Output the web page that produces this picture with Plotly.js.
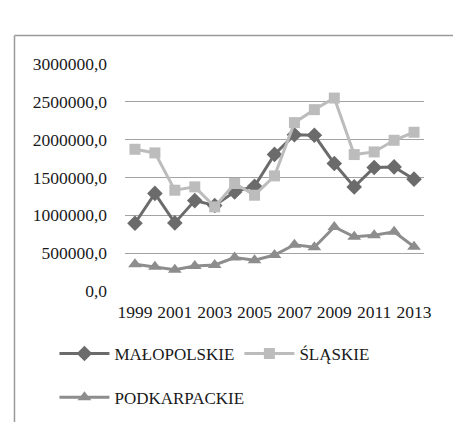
<!DOCTYPE html>
<html>
<head>
<meta charset="utf-8">
<script src="https://cdn.plot.ly/plotly-3.0.1.min.js"></script>
<style>
html,body{margin:0;padding:0;background:#fff;}
#chart{width:453px;height:422px;}
</style>
</head>
<body>
<div id="chart"></div>
<script>
var years = ['1999','2000','2001','2002','2003','2004','2005','2006','2007','2008','2009','2010','2011','2012','2013'];
var tickYears = ['1999','2001','2003','2005','2007','2009','2011','2013'];
var malopolskie = [895000,1290000,900000,1195000,1130000,1310000,1385000,1805000,2065000,2058000,1685000,1376000,1632000,1640000,1478000];
var slaskie = [1873000,1825000,1332000,1376000,1112000,1421000,1266000,1521000,2225000,2397000,2550000,1803000,1838000,1992000,2098000];
var podkarpackie = [355000,322000,280000,330000,345000,442000,408000,475000,612000,578000,846000,716000,738000,782000,585000];
var yTicks = [0,500000,1000000,1500000,2000000,2500000,3000000];

var font = "Liberation Serif";
var txt = '#1a1a1a';
var traces = [
  {x: years, y: malopolskie, name: 'MAŁOPOLSKIE', type: 'scatter', mode: 'lines+markers', legend: 'legend',
   line: {color: '#6b6b6b', width: 3}, marker: {symbol: 'diamond', size: 12, color: '#6b6b6b'}},
  {x: years, y: slaskie, name: 'ŚLĄSKIE', type: 'scatter', mode: 'lines+markers', legend: 'legend',
   line: {color: '#bcbcbc', width: 3}, marker: {symbol: 'square', size: 11, color: '#bcbcbc'}},
  {x: years, y: podkarpackie, name: 'PODKARPACKIE', type: 'scatter', mode: 'lines+markers', legend: 'legend2',
   line: {color: '#8d8d8d', width: 3}, marker: {symbol: 'triangle-up', size: 12, color: '#8d8d8d'}}
];

var legendBase = {orientation: 'h', xanchor: 'left', yanchor: 'middle',
    font: {family: font, size: 17, color: txt}, itemwidth: 50,
    bgcolor: 'rgba(0,0,0,0)', traceorder: 'normal', itemsizing: 'trace'};

var layout = {
  width: 453, height: 422,
  margin: {l: 125, r: 29, t: 63.5, b: 131, pad: 0, autoexpand: false},
  paper_bgcolor: '#fff', plot_bgcolor: '#fff',
  separators: ', ',
  font: {family: font, size: 17, color: txt},
  showlegend: true,
  legend: Object.assign({}, legendBase, {x: -0.236, y: -0.277}),
  legend2: Object.assign({}, legendBase, {x: -0.236, y: -0.47}),
  xaxis: {type: 'category', range: [-0.5, 14.5], tickvals: tickYears, ticktext: tickYears,
    showgrid: false, showline: false, zeroline: false, ticks: '', ticklabelstandoff: 8,
    tickfont: {family: font, size: 17.5, color: txt}, fixedrange: true},
  yaxis: {range: [0, 3000000], tickvals: yTicks, tickformat: '.1f',
    showgrid: true, gridcolor: '#a3a3a3', gridwidth: 1.3, zeroline: false, showline: false,
    ticks: '', ticklabelstandoff: 17,
    tickfont: {family: font, size: 17.5, color: txt}, fixedrange: true},
  shapes: [
    {type: 'line', xref: 'paper', yref: 'paper', x0: -0.3696, x1: -0.3696, y0: 1.1253, y1: -0.7,
     line: {color: '#9a9a9a', width: 1.5}},
    {type: 'line', xref: 'paper', yref: 'paper', x0: -0.3696, x1: 1.2, y0: 1.1253, y1: 1.1253,
     line: {color: '#9a9a9a', width: 1.5}}
  ]
};

Plotly.newPlot('chart', traces, layout, {displayModeBar: false, staticPlot: true});
</script>
</body>
</html>
